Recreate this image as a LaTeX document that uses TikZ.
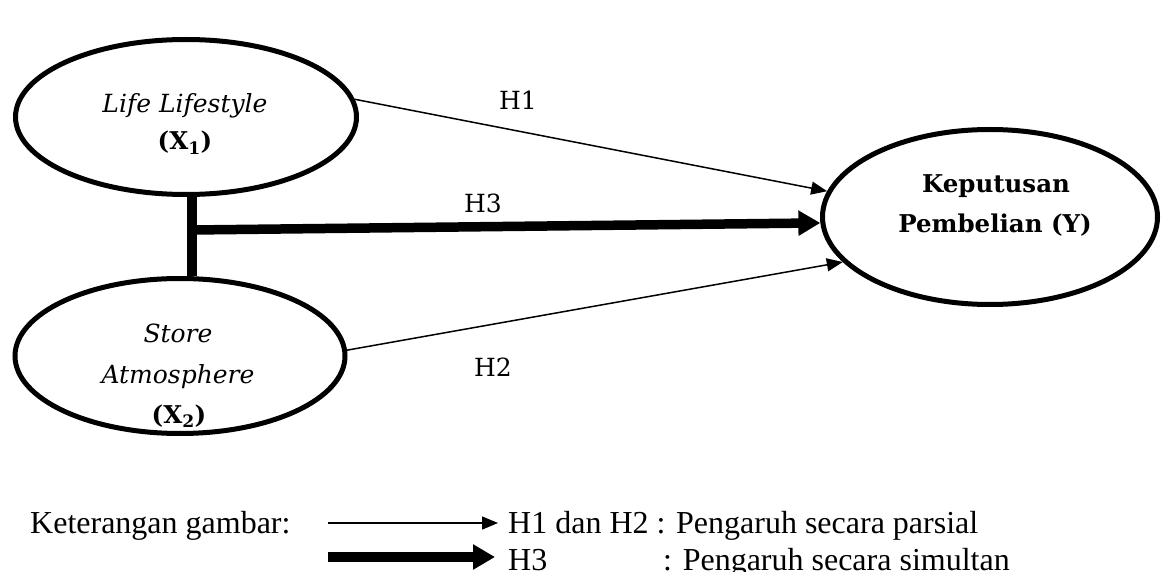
\documentclass[tikz,border=0pt]{standalone}
\usepackage{fontspec}
\setmainfont{Liberation Serif}
\newfontfamily\legfont{Liberation Serif}
\newfontfamily\varfont{DejaVu Serif}
\usetikzlibrary{shapes.geometric,arrows.meta}
\begin{document}
\begin{tikzpicture}[x=1pt,y=-1pt,
  varnode/.style={draw, ellipse, line width=5pt, inner sep=0pt},
  txt/.style={anchor=base, inner sep=0pt, font=\varfont\fontsize{24.5}{28}\selectfont},
  htxt/.style={anchor=base, inner sep=0pt, font=\varfont\fontsize{25}{28}\selectfont},
  ltxt/.style={anchor=base west, inner sep=0pt, font=\legfont\fontsize{32}{36}\selectfont},
  thinarrow/.style={line width=1.5pt, -{Triangle[length=16pt,width=13pt]}},
  thickarrow/.style={line width=9.5pt, -{Triangle[length=22pt,width=24pt]}},
  linkline/.style={line width=9.5pt}]
\useasboundingbox (0,0) rectangle (1163,572);
% variables
\node[varnode, minimum width=341pt, minimum height=155pt] (X1) at (186,117) {};
\node[varnode, minimum width=330pt, minimum height=155pt] (X2) at (180,356) {};
\node[varnode, minimum width=335pt, minimum height=175pt] (Y) at (990,217) {};
% texts in ellipses
\node[txt, font=\varfont\fontsize{25}{28}\selectfont] (t1) at (185,113) {\textit{Life Lifestyle}};
\node[txt] (t2) at (185,150) {\textbf{(X\textsubscript{1})}};
\node[txt, font=\varfont\fontsize{25}{28}\selectfont] (t3) at (178,342) {\textit{Store}};
\node[txt, font=\varfont\fontsize{25}{28}\selectfont] (t4) at (178,383) {\textit{Atmosphere}};
\node[txt] (t5) at (179,423) {\textbf{(X\textsubscript{2})}};
\node[txt] (t6) at (996,193) {\textbf{Keputusan}};
\node[txt] (t7) at (995,233) {\textbf{Pembelian (Y)}};
% link between X1 and X2
\coordinate (j) at (192,230);
\draw[linkline] (j |- X1.south) -- (j |- X2.north);
% arrows
\draw[thinarrow] (X1.6) -- (Y.171);
\draw[thickarrow] (j) -- (Y.182);
\draw[thinarrow] (X2.2) -- (Y.197);
% hypothesis labels
\node[htxt] (h1) at (518,110) {H1};
\node[htxt] (h3) at (483,213) {H3};
\node[htxt] (h2) at (493,376) {H2};
% legend
\node[ltxt] (k) at (30,533) {Keterangan gambar:};
\node[ltxt] (l1) at (508,533) {H1 dan H2 : Pengaruh secara parsial};
\node[ltxt] (l2) at (508,570) {H3};
\node[ltxt] (l3) at (663,570) {: Pengaruh secara simultan};
\coordinate (a1) at (328,523);
\coordinate (a2) at (328,557);
\draw[thinarrow, shorten >=10pt] (a1) -- (l1.west |- a1);
\draw[thickarrow, shorten >=13pt] (a2) -- (l2.west |- a2);
\end{tikzpicture}
\end{document}
